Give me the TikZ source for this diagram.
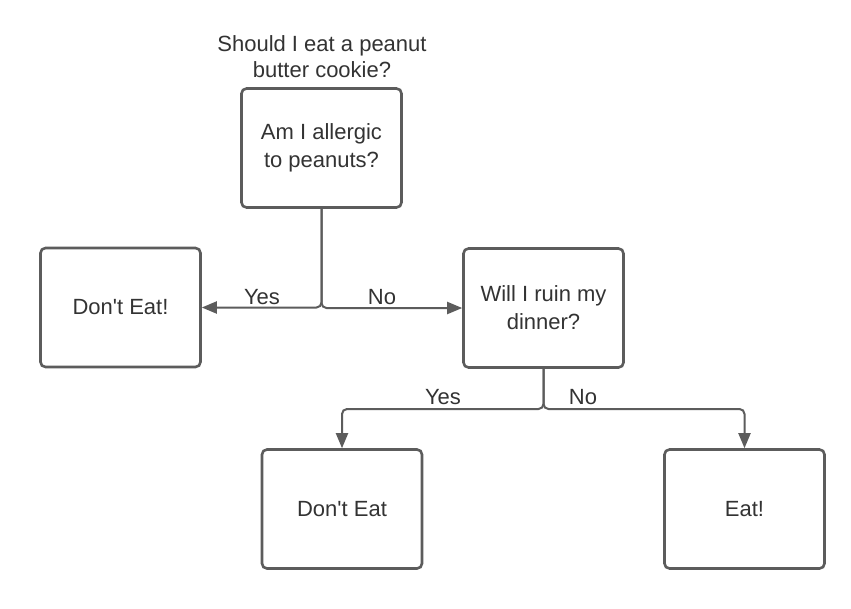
\documentclass[tikz,border=0pt]{standalone}
\usepackage{fontspec}
\setmainfont{Liberation Sans}
\usetikzlibrary{arrows.meta}
\definecolor{lc}{HTML}{5C5C5C}
\definecolor{tc}{HTML}{333333}
\tikzset{
  box/.style={draw=lc, line width=2.6pt, rounded corners=5pt, fill=white,
    minimum width=160pt, minimum height=119pt, inner sep=0pt,
    align=center, text=tc, font=\fontsize{22}{28}\selectfont},
  conn/.style={draw=lc, line width=2pt, rounded corners=5pt,
    -{Triangle[length=15pt,width=12pt]}},
  lbl/.style={text=tc, font=\fontsize{22}{26}\selectfont, inner sep=0pt}
}
\begin{document}
\begin{tikzpicture}[x=1pt,y=-1pt]
\useasboundingbox[fill=white] (0,0) rectangle (851,608);
\node[lbl, align=center] (title) at (322,57) {Should I eat a peanut\\[0pt]butter cookie?};
\node[box] (q1) at (321.5,148) {Am I allergic\\to peanuts?};
\node[box] (de1) at (120.5,307.5) {Don\textquotesingle t Eat!};
\node[box] (q2) at (543.5,308) {Will I ruin my\\dinner?};
\node[box] (de2) at (342,509) {Don\textquotesingle t Eat};
\node[box] (eat) at (744.5,509) {Eat!};
\coordinate (j2) at (543.5,409);
\draw[conn] (q1.south) |- (de1.east);
\draw[conn] (q1.south) |- (q2.west);
\draw[conn] (q2.south) -- (j2) -| (de2.north);
\draw[conn] (q2.south) -- (j2) -| (eat.north);
\node[lbl] (y1) at (262,297) {Yes};
\node[lbl] (n1) at (382,297) {No};
\node[lbl] (y2) at (443,397) {Yes};
\node[lbl] (n2) at (583,397) {No};
\end{tikzpicture}
\end{document}
